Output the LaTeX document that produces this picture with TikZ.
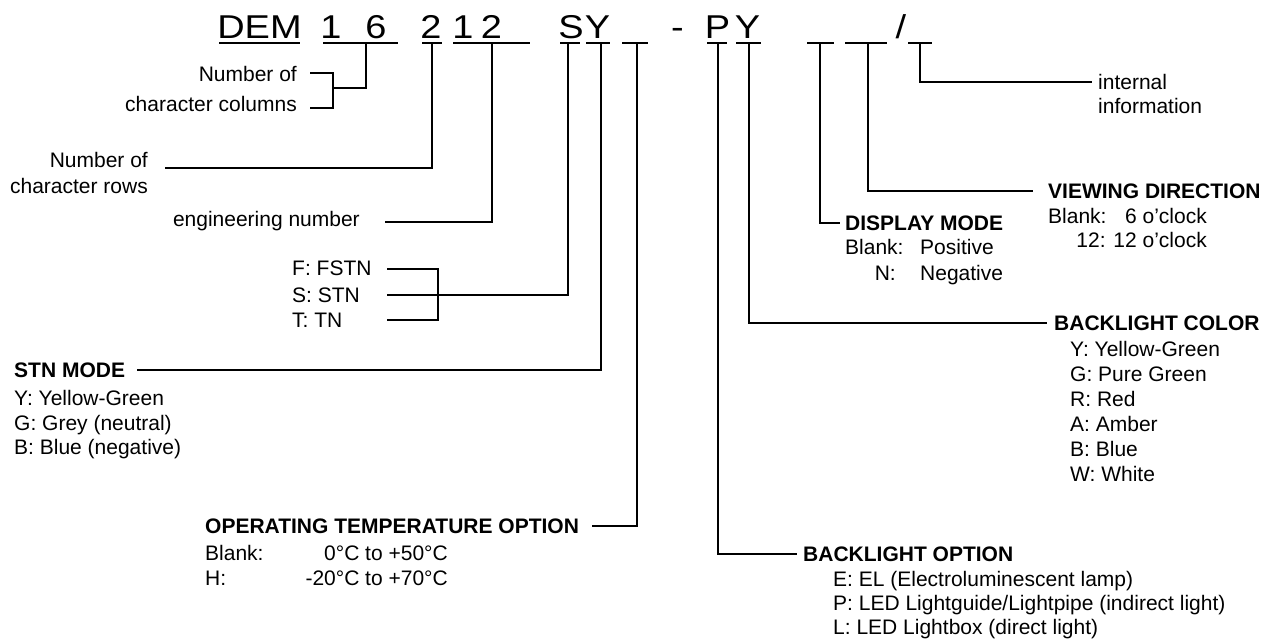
\documentclass[tikz,border=0pt]{standalone}
\usepackage{fontspec}
\setmainfont{Liberation Sans}
\begin{document}
\begin{tikzpicture}[x=1pt,y=-1pt,
  txt/.style={inner sep=0pt, font=\fontsize{21}{24}\selectfont},
  bld/.style={inner sep=0pt, font=\fontsize{21}{24}\selectfont\bfseries},
  hd/.style={inner sep=0pt, anchor=base, font=\fontsize{33}{36}\selectfont\addfontfeature{FakeStretch=1.15}},
  uline/.style={line width=2pt},
  conn/.style={line width=1.2pt}]
\useasboundingbox (0,0) rectangle (1275,643);
% ---------- header ----------
\node[hd] (hDEM) at (259.5,38) {DEM};
\node[hd] (h1a) at (331,38) {1};
\node[hd] (h6) at (376,38) {6};
\node[hd] (h2) at (431,38) {2};
\node[hd] (h1b) at (463,38) {1};
\node[hd] (h2b) at (491.5,38) {2};
\node[hd] (hS) at (571,38) {S};
\node[hd] (hY) at (597.5,38) {Y};
\node[hd] (hdash) at (677.5,38) {-};
\node[hd] (hP) at (717.5,38) {P};
\node[hd] (hY2) at (747.5,38) {Y};
\node[hd] (hsl) at (901,38) {/};
% underlines
\foreach \a/\b in {219/300,323/398,422/442,453/530,560/580,586/610,622/648,707/727,736/761,807/834,845/887,908/932}
  \draw[uline] (\a,43) -- (\b,43);
% underline anchor points
\coordinate (u16) at (366,43);
\coordinate (u2) at (432,43);
\coordinate (u12) at (492,43);
\coordinate (uS) at (568,43);
\coordinate (uY) at (601,43);
\coordinate (uT) at (637,43);
\coordinate (uP) at (718,43);
\coordinate (uY2) at (749,43);
\coordinate (uD) at (820,43);
\coordinate (uV) at (868,43);
\coordinate (uI) at (920,43);
% ---------- character columns ----------
\node[txt, anchor=base east] (cols1) at (297,81) {Number of};
\node[txt, anchor=base east] (cols2) at (297,111) {character columns};
\coordinate (bc) at (333,88);
\coordinate (bct) at (333,73);
\coordinate (bcb) at (333,108);
\coordinate (bct0) at (310,73);
\coordinate (bcb0) at (310,108);
\draw[conn] (u16) |- (bc);
\draw[conn] (bct0) -- (bct) -- (bcb) -- (bcb0);
% ---------- character rows ----------
\node[txt, anchor=base east] (rows1) at (148,167) {Number of};
\node[txt, anchor=base east] (rows2) at (148,193) {character rows};
\coordinate (er) at (165,168);
\draw[conn] (u2) |- (er);
% ---------- engineering number ----------
\node[txt, anchor=base east] (eng) at (360,226) {engineering number};
\coordinate (ee) at (385,222);
\draw[conn] (u12) |- (ee);
% ---------- F / S / T ----------
\node[txt, anchor=base west] (tF) at (292,275) {F: FSTN};
\node[txt, anchor=base west] (tS) at (292,302) {S: STN};
\node[txt, anchor=base west] (tT) at (292,327) {T: TN};
\coordinate (fF0) at (387,269);
\coordinate (fF1) at (438,269);
\coordinate (fS0) at (387,295);
\coordinate (fS1) at (438,295);
\coordinate (fT0) at (387,320);
\coordinate (fT1) at (438,320);
\draw[conn] (fF0) -- (fF1) -- (fT1) -- (fT0);
\draw[conn] (fS0) -- (fS1);
\draw[conn] (uS) |- (fS1);
% ---------- STN mode ----------
\node[bld, anchor=base west] (stn) at (14,377) {STN MODE};
\node[txt, anchor=base west] (stnY) at (14,405) {Y: Yellow-Green};
\node[txt, anchor=base west] (stnG) at (14,430) {G: Grey (neutral)};
\node[txt, anchor=base west] (stnB) at (14,454) {B: Blue (negative)};
\coordinate (es) at (137,370);
\draw[conn] (uY) |- (es);
% ---------- operating temperature ----------
\node[bld, anchor=base west] (op) at (205,533) {OPERATING TEMPERATURE OPTION};
\node[txt, anchor=base west] (opB) at (205,560) {Blank:};
\node[txt, anchor=base east] (opB2) at (448,560) {0°C to +50°C};
\node[txt, anchor=base west] (opH) at (205,585) {H:};
\node[txt, anchor=base east] (opH2) at (448,585) {-20°C to +70°C};
\coordinate (eo) at (592,526);
\draw[conn] (uT) |- (eo);
% ---------- backlight option ----------
\node[bld, anchor=base west] (bo) at (803,561) {BACKLIGHT OPTION};
\node[txt, anchor=base west] (boE) at (833,586) {E: EL (Electroluminescent lamp)};
\node[txt, anchor=base west] (boP) at (833,610) {P: LED Lightguide/Lightpipe (indirect light)};
\node[txt, anchor=base west] (boL) at (833,634) {L: LED Lightbox (direct light)};
\coordinate (ebo) at (797,554);
\draw[conn] (uP) |- (ebo);
% ---------- backlight color ----------
\node[bld, anchor=base west] (bc2) at (1054,330) {BACKLIGHT COLOR};
\node[txt, anchor=base west] (bcY) at (1070,356) {Y: Yellow-Green};
\node[txt, anchor=base west] (bcG) at (1070,381) {G: Pure Green};
\node[txt, anchor=base west] (bcR) at (1070,406) {R: Red};
\node[txt, anchor=base west] (bcA) at (1070,431) {A: Amber};
\node[txt, anchor=base west] (bcB) at (1070,456) {B: Blue};
\node[txt, anchor=base west] (bcW) at (1070,481) {W: White};
\coordinate (ebc) at (1047,323);
\draw[conn] (uY2) |- (ebc);
% ---------- display mode ----------
\node[bld, anchor=base west] (dm) at (845,230) {DISPLAY MODE};
\node[txt, anchor=base west] (dmB) at (845,254) {Blank:};
\node[txt, anchor=base west] (dmB2) at (920,254) {Positive};
\node[txt, anchor=base east] (dmN) at (896,280) {N:};
\node[txt, anchor=base west] (dmN2) at (920,280) {Negative};
\coordinate (edm) at (840,223);
\draw[conn] (uD) |- (edm);
% ---------- viewing direction ----------
\node[bld, anchor=base west] (vd) at (1048,198) {VIEWING DIRECTION};
\node[txt, anchor=base west] (vdB) at (1048,223) {Blank:};
\node[txt, anchor=base east] (vdB2) at (1207,223) {6 o’clock};
\node[txt, anchor=base east] (vd12) at (1207,247) {12: 12 o’clock};
\coordinate (evd) at (1033,191);
\draw[conn] (uV) |- (evd);
% ---------- internal information ----------
\node[txt, anchor=base west] (ii1) at (1098,89) {internal};
\node[txt, anchor=base west] (ii2) at (1098,113) {information};
\coordinate (eii) at (1092,82);
\draw[conn] (uI) |- (eii);
\end{tikzpicture}
\end{document}
